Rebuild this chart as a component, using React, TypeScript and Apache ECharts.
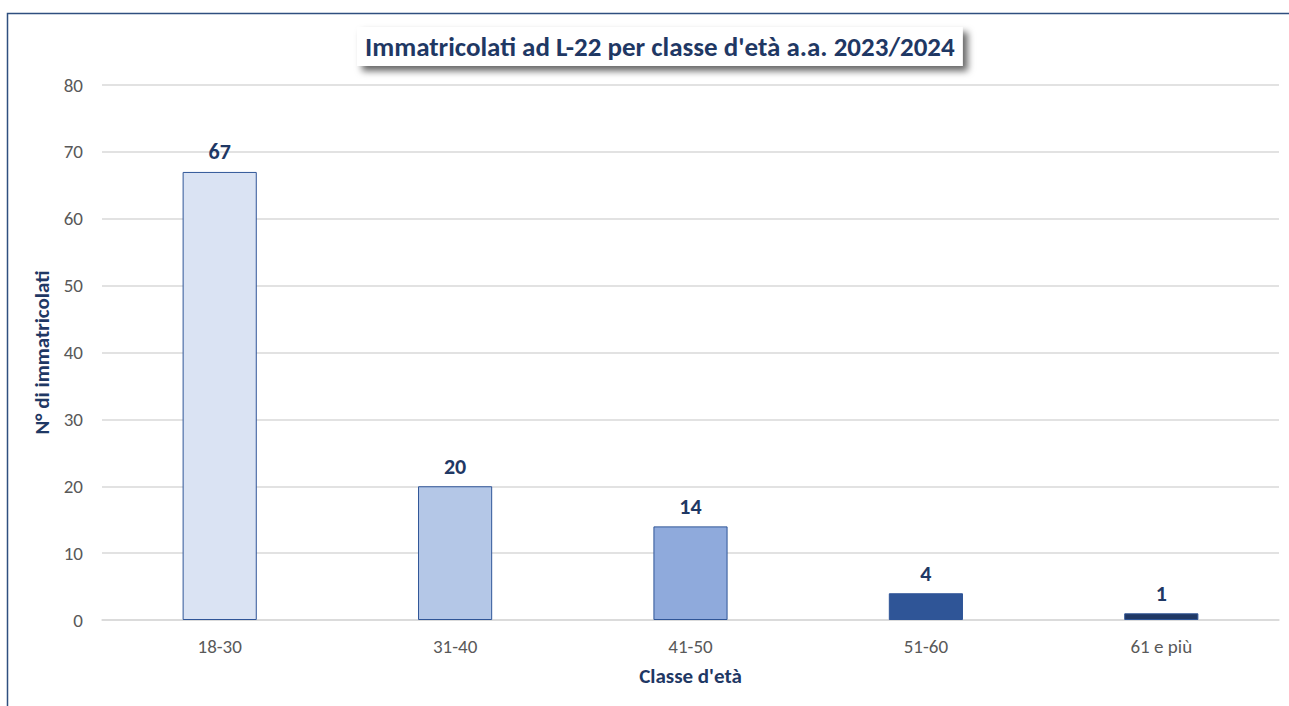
import React, { useEffect, useRef } from "react";
import * as echarts from "echarts";

const categories = ["18-30", "31-40", "41-50", "51-60", "61 e più"];
const values = [67, 20, 14, 4, 1];
const barColors = ["#DAE3F3", "#B4C7E7", "#8FAADC", "#2F5597", "#203864"];
const yTicks = { min: 0, max: 80, interval: 10 };

export default function App() {
  const ref = useRef<HTMLDivElement>(null);
  useEffect(() => {
    if (!ref.current) return;
    const chart = echarts.init(ref.current, undefined, { renderer: "svg" });
    const font = "Calibri, Carlito, 'Open Sans', 'Liberation Sans', sans-serif";
    chart.setOption({
      animation: false,
      backgroundColor: "#ffffff",
      title: {
        text: "Immatricolati ad L-22 per classe d'età a.a. 2023/2024",
        left: 357,
        top: 27,
        padding: [6, 8, 6, 8],
        backgroundColor: "#ffffff",
        shadowColor: "rgba(0,0,0,0.6)",
        shadowBlur: 7,
        shadowOffsetX: 5,
        shadowOffsetY: 5,
        textStyle: { fontFamily: font, fontSize: 27, fontWeight: "bold", color: "#1F3864" },
      },
      graphic: [
        {
          type: "rect",
          shape: { x: 7.5, y: 13.5, width: 1300, height: 720 },
          style: { fill: "none", stroke: "#2F4F7F", lineWidth: 1.5 },
          silent: true,
        },
      ],
      grid: { left: 102, right: 10, top: 85, bottom: 86 },
      xAxis: {
        type: "category",
        data: categories,
        name: "Classe d'età",
        nameLocation: "middle",
        nameGap: 45,
        nameTextStyle: { fontFamily: font, fontSize: 21, fontWeight: "bold", color: "#1F3864" },
        axisLine: { lineStyle: { color: "#D9D9D9", width: 1.5 } },
        axisTick: { show: false },
        axisLabel: { fontFamily: font, fontSize: 19, color: "#595959", margin: 17 },
      },
      yAxis: {
        type: "value",
        min: yTicks.min,
        max: yTicks.max,
        interval: yTicks.interval,
        name: "N° di immatricolati",
        nameLocation: "middle",
        nameGap: 47,
        nameTextStyle: { fontFamily: font, fontSize: 21, fontWeight: "bold", color: "#1F3864" },
        axisLine: { show: false },
        axisTick: { show: false },
        axisLabel: { fontFamily: font, fontSize: 19, color: "#595959", margin: 19 },
        splitLine: { lineStyle: { color: "#D9D9D9", width: 1.5 } },
      },
      series: [
        {
          type: "bar",
          barWidth: "31.5%",
          data: values.map((v, i) => ({
            value: v,
            itemStyle: { color: barColors[i], borderColor: "#2F5597", borderWidth: 1 },
          })),
          label: {
            show: true,
            position: "top",
            distance: 9,
            fontFamily: font,
            fontSize: 22,
            fontWeight: "bold",
            color: "#1F3864",
          },
        },
      ],
    });
    return () => chart.dispose();
  }, []);
  return (
    <div
      ref={ref}
      style={{ position: "fixed", left: 0, top: 0, width: 1289, height: 706 }}
    />
  );
}
